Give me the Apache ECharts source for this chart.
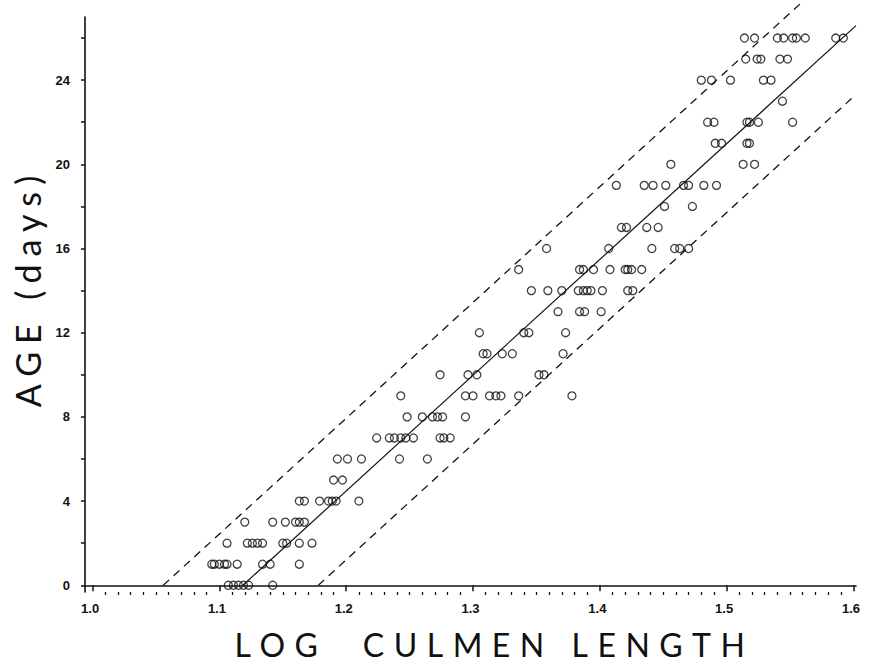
<!DOCTYPE html>
<html><head><meta charset="utf-8">
<script src="https://cdn.jsdelivr.net/npm/echarts@6/dist/echarts.min.js"></script>
<style>
html,body{margin:0;padding:0;background:#fff;}
#main{width:872px;height:668px;}
#main text[style*="32px"]{letter-spacing:9.5px;white-space:pre;}
#main text[style*="34px"]{letter-spacing:8px;white-space:pre;}
</style></head><body><div id="main"></div>
<script>
// Log culmen length of each bird, grouped by age in days
const age00 = [1.107, 1.111, 1.115, 1.119, 1.123, 1.142];
const age01 = [1.094, 1.096, 1.100, 1.104, 1.106, 1.114, 1.134, 1.140, 1.163];
const age02 = [1.106, 1.122, 1.126, 1.130, 1.134, 1.150, 1.153, 1.163, 1.173];
const age03 = [1.120, 1.142, 1.152, 1.160, 1.163, 1.167];
const age04 = [1.163, 1.167, 1.179, 1.186, 1.189, 1.192, 1.210];
const age05 = [1.190, 1.197];
const age06 = [1.193, 1.201, 1.212, 1.242, 1.264];
const age07 = [1.224, 1.234, 1.238, 1.243, 1.247, 1.253, 1.274, 1.277, 1.282];
const age08 = [1.248, 1.260, 1.268, 1.272, 1.276, 1.294];
const age09 = [1.243, 1.294, 1.300, 1.313, 1.318, 1.322, 1.336, 1.378];
const age10 = [1.274, 1.296, 1.303, 1.352, 1.356];
const age11 = [1.308, 1.311, 1.323, 1.331, 1.371];
const age12 = [1.305, 1.340, 1.344, 1.373];
const age13 = [1.367, 1.384, 1.388, 1.401];
const age14 = [1.346, 1.359, 1.370, 1.383, 1.387, 1.390, 1.393, 1.402, 1.422, 1.426];
const age15 = [1.336, 1.384, 1.387, 1.395, 1.408, 1.420, 1.422, 1.425, 1.433];
const age16 = [1.358, 1.407, 1.441, 1.459, 1.463, 1.470];
const age17 = [1.417, 1.421, 1.437, 1.446];
const age18 = [1.451, 1.473];
const age19 = [1.413, 1.435, 1.442, 1.452, 1.466, 1.470, 1.482, 1.492];
const age20 = [1.456, 1.513, 1.522];
const age21 = [1.491, 1.496, 1.516, 1.518];
const age22 = [1.485, 1.490, 1.516, 1.518, 1.525, 1.552];
const age23 = [1.544];
const age24 = [1.480, 1.488, 1.503, 1.529, 1.535];
const age25 = [1.515, 1.524, 1.527, 1.542, 1.548];
const age26 = [1.514, 1.522, 1.540, 1.545, 1.552, 1.555, 1.562, 1.586, 1.592];
const ageDays = [0,1,2,3,4,5,6,7,8,9,10,11,12,13,14,15,16,17,18,19,20,21,22,23,24,25,26];
const culmenByAge = [age00, age01, age02, age03, age04, age05, age06, age07, age08, age09,
  age10, age11, age12, age13, age14, age15, age16, age17, age18, age19,
  age20, age21, age22, age23, age24, age25, age26];

// Regression line and its limits
const fitLineX = [1.1185, 1.602];
const fitLineY = [0, 26.59];
const upperLimitX = [1.0557, 1.5586];
const upperLimitY = [0, 27.66];
const lowerLimitX = [1.178, 1.602];
const lowerLimitY = [0, 23.32];

// Axis ticks and labels
const xLabelValues = [1.0, 1.1, 1.2, 1.3, 1.4, 1.5, 1.6];
const xMinorTickValues = [];
for (let i = 0; i <= 60; i++) { if (i % 10 !== 0) xMinorTickValues.push(+(1 + i / 100).toFixed(2)); }
const yTickValues = [0, 2, 4, 6, 8, 10, 12, 14, 16, 18, 20, 22, 24, 26];
const yLabelValues = [0, 4, 8, 12, 16, 20, 24];

const points = [];
culmenByAge.forEach((xs, i) => xs.forEach(x => points.push([x, ageDays[i]])));
const pair = (xs, ys) => xs.map((x, i) => [x, ys[i]]);

const ink = '#111';
const chart = echarts.init(document.getElementById('main'), null, {renderer: 'svg'});
chart.setOption({
  animation: false,
  backgroundColor: '#fff',
  grid: {left: 85, right: 16, top: 17, bottom: 76, containLabel: false, outerBoundsMode: 'none'},
  xAxis: [{
    type: 'value', min: 0.994, max: 1.602, position: 'bottom',
    name: 'LOG  CULMEN LENGTH', nameLocation: 'middle', nameGap: 36,
    nameTextStyle: {fontFamily: 'Lato', fontSize: 32, color: ink, padding: [0, 0, 0, 48]},
    axisLine: {lineStyle: {color: ink, width: 1.6}},
    axisTick: {show: true, inside: false, length: 6, lineStyle: {color: ink, width: 1.5}, customValues: xLabelValues},
    axisLabel: {customValues: xLabelValues, margin: 10, color: ink, fontFamily: 'Liberation Sans', fontWeight: 'bold', fontSize: 13,
      padding: [0, 5, 0, 0], formatter: v => v.toFixed(1)},
    splitLine: {show: false}
  }, {
    type: 'value', min: 0.994, max: 1.602, position: 'bottom',
    axisLine: {show: false},
    axisTick: {show: true, inside: false, length: 3, lineStyle: {color: ink, width: 1.3}, customValues: xMinorTickValues},
    axisLabel: {show: false},
    splitLine: {show: false}
  }],
  yAxis: {
    type: 'value', min: -0.32, max: 27,
    name: 'AGE (days)', nameLocation: 'middle', nameGap: 36, nameRotate: 90,
    nameTextStyle: {fontFamily: 'Lato', fontSize: 34, color: ink, padding: [0, 0, 0, 34]},
    axisLine: {show: true, lineStyle: {color: ink, width: 1.6}},
    axisTick: {show: true, inside: false, length: 4, lineStyle: {color: ink, width: 1.5}, customValues: yTickValues},
    axisLabel: {customValues: yLabelValues, margin: 15, color: ink, fontFamily: 'Liberation Sans', fontWeight: 'bold', fontSize: 13},
    splitLine: {show: false}
  },
  series: [{
    type: 'scatter', data: points, symbol: 'circle', symbolSize: 8, silent: true,
    itemStyle: {color: 'rgba(0,0,0,0)', borderColor: ink, borderWidth: 1.3}
  }, {
    type: 'line', data: pair(fitLineX, fitLineY), symbol: 'none', silent: true, clip: false,
    lineStyle: {color: ink, width: 1.2}
  }, {
    type: 'line', data: pair(upperLimitX, upperLimitY), symbol: 'none', silent: true, clip: false,
    lineStyle: {color: ink, width: 1.3, type: [8, 6]}
  }, {
    type: 'line', data: pair(lowerLimitX, lowerLimitY), symbol: 'none', silent: true, clip: false,
    lineStyle: {color: ink, width: 1.3, type: [8, 6]}
  }]
});
</script></body></html>
